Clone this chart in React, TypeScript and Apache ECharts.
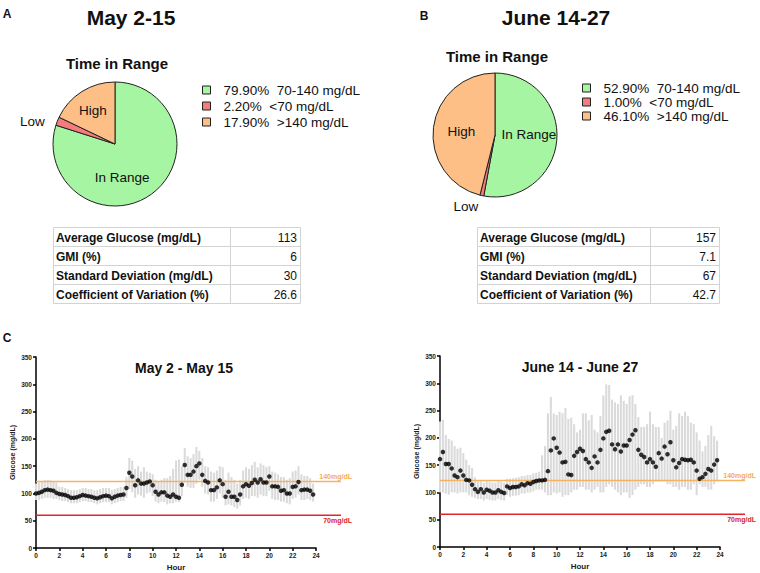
import React, { useEffect, useRef } from "react";
import * as echarts from "echarts";

const FONT = '"Liberation Sans", Arial, Helvetica, sans-serif';

// ---------- Pie data ----------
const pieCategories = ["In Range", "Low", "High"];
const pieRanges = ["70-140 mg/dL", "<70 mg/dL", ">140 mg/dL"];
const pieColors = ["#a6f5a2", "#f47c7c", "#fdbf86"];
const pieValuesA = [79.9, 2.2, 17.9];
const pieValuesB = [52.9, 1.0, 46.1];

// ---------- Summary tables ----------
const statLabels = [
  "Average Glucose (mg/dL)",
  "GMI (%)",
  "Standard Deviation (mg/dL)",
  "Coefficient of Variation (%)",
];
const statValuesA = ["113", "6", "30", "26.6"];
const statValuesB = ["157", "7.1", "67", "42.7"];

// ---------- Daily profile (15-minute samples, 0 h .. 23.75 h) ----------
const SAMPLE_STEP_HOURS = 0.25;

const meanA = [
  100, 101, 103, 106, 107, 106, 105, 101,
  99, 98, 97, 95, 92, 92, 93, 95,
  97, 96, 95, 94, 92, 91, 93, 95,
  96, 95, 91, 94, 96, 97, 98, 110,
  138, 131, 115, 124, 118, 118, 120, 122,
  115, 103, 98, 102, 102, 96, 94, 98,
  94, 92, 116, 152, 134, 134, 140, 150,
  155, 134, 123, 120, 106, 106, 111, 124,
  117, 94, 103, 94, 94, 88, 98, 113,
  117, 114, 119, 125, 120, 126, 120, 120,
  131, 113, 113, 112, 105, 106, 100, 100,
  112, 113, 121, 106, 107, 107, 105, 98,
];
const highA = [
  118, 120, 122, 124, 125, 124, 122, 120,
  112, 112, 110, 108, 106, 106, 106, 108,
  110, 110, 108, 108, 106, 106, 108, 110,
  110, 110, 106, 108, 110, 112, 112, 130,
  165, 160, 145, 150, 140, 148, 140, 138,
  135, 125, 122, 125, 128, 128, 132, 145,
  160, 162, 150, 183, 168, 165, 172, 185,
  178, 165, 150, 148, 140, 138, 142, 150,
  148, 125, 138, 130, 125, 118, 125, 142,
  148, 145, 152, 158, 148, 155, 152, 148,
  150, 140, 138, 135, 130, 130, 125, 128,
  140, 142, 150, 135, 132, 132, 128, 118,
];
const lowA = [
  88, 88, 90, 92, 92, 92, 90, 90,
  88, 86, 86, 84, 82, 82, 82, 84,
  86, 86, 84, 84, 82, 80, 82, 84,
  84, 84, 80, 82, 84, 86, 86, 92,
  108, 102, 92, 98, 96, 92, 100, 102,
  95, 85, 82, 85, 84, 80, 82, 82,
  85, 84, 95, 120, 112, 110, 110, 118,
  125, 112, 100, 98, 85, 85, 90, 100,
  92, 78, 80, 78, 75, 72, 78, 90,
  92, 90, 95, 95, 92, 98, 95, 95,
  105, 90, 88, 88, 85, 85, 82, 80,
  90, 92, 98, 88, 88, 90, 88, 85,
];

const meanB = [
  161, 174, 152, 152, 144, 131, 128, 140,
  131, 123, 122, 114, 106, 101, 106, 100,
  105, 103, 100, 100, 104, 101, 99, 111,
  108, 110, 110, 111, 115, 113, 117, 116,
  119, 121, 122, 122, 123, 139, 177, 199,
  182, 173, 155, 156, 133, 132, 167, 174,
  180, 176, 161, 155, 145, 166, 155, 178,
  199, 211, 213, 188, 179, 188, 175, 186,
  186, 196, 206, 214, 178, 169, 165, 155,
  161, 155, 147, 172, 162, 184, 170, 192,
  159, 146, 154, 161, 160, 159, 160, 155,
  140, 125, 128, 134, 143, 140, 151, 159,
];
const highB = [
  230, 233, 205, 198, 195, 185, 180, 182,
  172, 160, 150, 145, 128, 120, 122, 118,
  122, 120, 118, 118, 122, 120, 118, 125,
  125, 126, 127, 128, 130, 130, 132, 132,
  135, 136, 138, 168, 185, 245, 275, 245,
  242, 248, 245, 255, 235, 237, 225, 210,
  215, 245, 245, 232, 242, 215, 210, 240,
  278, 298, 297, 270, 265, 262, 278, 268,
  262, 276, 278, 262, 238, 220, 220, 225,
  248, 225, 220, 220, 200, 228, 232, 250,
  215, 222, 245, 240, 248, 240, 228, 225,
  210, 195, 175, 185, 205, 222, 203, 195,
];
const lowB = [
  100, 100, 98, 96, 100, 100, 98, 100,
  100, 100, 95, 92, 90, 88, 88, 85,
  88, 86, 85, 85, 88, 86, 85, 95,
  92, 94, 94, 95, 98, 98, 100, 100,
  102, 105, 105, 105, 100, 95, 95, 100,
  98, 100, 92, 95, 95, 100, 105, 105,
  110, 110, 105, 105, 100, 105, 110, 100,
  100, 110, 115, 110, 105, 100, 95, 100,
  100, 90, 95, 105, 110, 115, 115, 110,
  110, 115, 120, 120, 120, 120, 115, 115,
  110, 110, 105, 110, 110, 105, 105, 115,
  95, 115, 110, 110, 105, 105, 115, 120,
];

// reference lines (drawn level, label)
const refLevels = [122, 60];
const refLabels = ["140mg/dL", "70mg/dL"];
const refColors = ["#f5b262", "#e0262a"];
const refLabelColors = ["#f3ad5c", "#d9232a"];

// ---------- layout ----------
const PLOT_W = 280;
const PLOT_H = 191;
const REF_W = 305;
const X_MAX = 24;
const REF_X_MAX = (X_MAX * REF_W) / PLOT_W;

function pieSeries(values: number[], center: number[], labelOffsets: number[][]) {
  return {
    type: "pie",
    center,
    radius: 62,
    startAngle: 90,
    clockwise: true,
    silent: true,
    itemStyle: { borderColor: "#222", borderWidth: 1 },
    labelLine: { show: false },
    data: values.map((v, i) => ({
      name: `${v.toFixed(2)}%  ${pieRanges[i]}`,
      value: v,
      itemStyle: { color: pieColors[i] },
      label: {
        show: true,
        position: "inside",
        formatter: pieCategories[i],
        offset: labelOffsets[i],
        color: "#111",
        fontSize: 13.5,
        fontFamily: FONT,
      },
    })),
  };
}

function legendFor(values: number[], left: number, top: number, rowH: number, gap: number) {
  return {
    orient: "vertical",
    left,
    top,
    padding: 0,
    itemGap: gap,
    itemWidth: 8,
    itemHeight: 8,
    icon: "rect",
    selectedMode: false,
    itemStyle: { borderColor: "#222", borderWidth: 1 },
    textStyle: {
      fontSize: 13.5,
      lineHeight: rowH,
      fontFamily: FONT,
      color: "#111",
      padding: [0, 0, 0, 8],
    },
    data: values.map((v, i) => `${v.toFixed(2)}%  ${pieRanges[i]}`),
  };
}

function tableGraphics(left: number, divider: number, right: number, top: number, values: string[]) {
  const ROW_H = 19;
  const els: any[] = [];
  statLabels.forEach((lab, i) => {
    const y = top + i * ROW_H;
    els.push({
      type: "rect",
      shape: { x: left + 0.5, y: y + 0.5, width: divider - left, height: ROW_H },
      style: { fill: "none", stroke: "#d3d3d3", lineWidth: 1 },
    });
    els.push({
      type: "rect",
      shape: { x: divider + 0.5, y: y + 0.5, width: right - divider, height: ROW_H },
      style: { fill: "none", stroke: "#d3d3d3", lineWidth: 1 },
    });
    els.push({
      type: "text",
      x: left + 3,
      y: y + ROW_H / 2 + 1,
      style: {
        text: lab,
        fontSize: 12,
        fontWeight: "bold",
        fontFamily: FONT,
        fill: "#111",
        align: "left",
        verticalAlign: "middle",
      },
    });
    els.push({
      type: "text",
      x: right - 3,
      y: y + ROW_H / 2 + 1,
      style: {
        text: values[i],
        fontSize: 12,
        fontFamily: FONT,
        fill: "#111",
        align: "right",
        verticalAlign: "middle",
      },
    });
  });
  return els;
}

function textEl(text: string, x: number, y: number, size: number, bold: boolean, align = "center") {
  return {
    type: "text",
    x,
    y,
    style: {
      text,
      fontSize: size,
      fontWeight: bold ? "bold" : "normal",
      fontFamily: FONT,
      fill: "#111",
      align,
      verticalAlign: "middle",
    },
  };
}

function mainAxes(left: number, top: number) {
  const axisCommon = {
    axisLine: { show: true, lineStyle: { color: "#000", width: 1.5 } },
    axisTick: { show: true, length: 3, lineStyle: { color: "#000", width: 1.5 } },
    splitLine: { show: false },
    axisLabel: { fontSize: 6.5, fontWeight: "bold", color: "#222", fontFamily: FONT, margin: 4 },
  };
  return {
    grid: { left, top, width: PLOT_W, height: PLOT_H, containLabel: false },
    x: {
      type: "value",
      min: 0,
      max: X_MAX,
      interval: 2,
      name: "Hour",
      nameLocation: "middle",
      nameGap: 15,
      nameTextStyle: { fontSize: 8, fontWeight: "bold", color: "#222", fontFamily: FONT },
      ...axisCommon,
    },
    y: {
      type: "value",
      min: 0,
      max: 350,
      interval: 50,
      name: "Glucose (mg/dL)",
      nameLocation: "middle",
      nameGap: 20,
      nameTextStyle: { fontSize: 7, fontWeight: "bold", color: "#222", fontFamily: FONT },
      ...axisCommon,
    },
  };
}

function profileSeries(mean: number[], low: number[], high: number[], axisIdx: number, refAxisIdx: number) {
  const hours = mean.map((_, i) => i * SAMPLE_STEP_HOURS);
  const rangeData = hours.map((h, i) => [h, low[i], high[i]]);
  const pointData = hours.map((h, i) => [h, mean[i]]);
  const out: any[] = [
    {
      type: "custom",
      xAxisIndex: axisIdx,
      yAxisIndex: axisIdx,
      silent: true,
      z: 2,
      data: rangeData,
      renderItem: (params: any, api: any) => {
        const x = api.value(0);
        const lo = api.value(1);
        const hi = api.value(2);
        const pTop = api.coord([x, hi]);
        const pBot = api.coord([x, lo]);
        const w = api.size([SAMPLE_STEP_HOURS, 0])[0] * 0.7;
        return {
          type: "rect",
          shape: { x: pTop[0] - w / 2, y: pTop[1], width: w, height: pBot[1] - pTop[1] },
          style: { fill: "#dadada" },
        };
      },
    },
    {
      type: "scatter",
      xAxisIndex: axisIdx,
      yAxisIndex: axisIdx,
      silent: true,
      z: 5,
      symbolSize: 4.5,
      itemStyle: { color: "#000" },
      data: pointData,
    },
  ];
  refLevels.forEach((lvl, k) => {
    out.push({
      type: "line",
      xAxisIndex: refAxisIdx,
      yAxisIndex: refAxisIdx,
      silent: true,
      clip: false,
      z: 3,
      symbol: "circle",
      symbolSize: 0,
      showSymbol: true,
      lineStyle: { color: refColors[k], width: 1.5 },
      itemStyle: { color: refColors[k] },
      data: [
        [0, lvl],
        {
          value: [REF_X_MAX, lvl],
          label: {
            show: true,
            position: k === 0 ? "top" : "bottom",
            align: "right",
            offset: k === 0 ? [11, 4] : [11, -3],
            formatter: refLabels[k],
            color: refLabelColors[k],
            fontSize: 7,
            fontWeight: "bold",
            fontFamily: FONT,
          },
        },
      ],
    });
  });
  return out;
}

export default function App() {
  const ref = useRef<HTMLDivElement>(null);
  useEffect(() => {
    document.body.style.margin = "0";
    const chart = echarts.init(ref.current!, null, { renderer: "svg" });

    const left = mainAxes(36, 357);
    const right = mainAxes(440, 356);
    const hiddenX = { type: "value", min: 0, max: REF_X_MAX, show: false };
    const hiddenY = { type: "value", min: 0, max: 350, show: false };

    const option: any = {
      animation: false,
      backgroundColor: "#fff",
      grid: [
        left.grid,
        { left: 36, top: 357, width: REF_W, height: PLOT_H },
        right.grid,
        { left: 440, top: 356, width: REF_W, height: PLOT_H },
      ],
      xAxis: [
        { ...left.x, gridIndex: 0 },
        { ...hiddenX, gridIndex: 1 },
        { ...right.x, gridIndex: 2 },
        { ...hiddenX, gridIndex: 3 },
      ],
      yAxis: [
        { ...left.y, gridIndex: 0 },
        { ...hiddenY, gridIndex: 1 },
        { ...right.y, gridIndex: 2 },
        { ...hiddenY, gridIndex: 3 },
      ],
      legend: [
        legendFor(pieValuesA, 202, 83, 13.5, 2),
        legendFor(pieValuesB, 582, 81, 12, 0),
      ],
      graphic: [
        textEl("A", 7, 14, 12, true),
        textEl("May 2-15", 131, 17, 21, true),
        textEl("Time in Range", 117, 63, 15, true),
        textEl("B", 424, 16, 12, true),
        textEl("June 14-27", 556, 17, 21, true),
        textEl("Time in Range", 497, 56, 15, true),
        textEl("C", 7, 338, 12, true),
        textEl("May 2 - May 15", 184, 368, 14, true),
        textEl("June 14 - June 27", 580, 367, 14, true),
        ...tableGraphics(53, 230, 300, 227, statValuesA),
        ...tableGraphics(477, 650, 719, 227, statValuesB),
      ],
      series: [
        pieSeries(pieValuesA, [115, 144], [[-13, 6], [-51, -10], [-4, -5]]),
        pieSeries(pieValuesB, [495, 135], [[0, -4], [-22, 38], [0, 1]]),
        ...profileSeries(meanA, lowA, highA, 0, 1),
        ...profileSeries(meanB, lowB, highB, 2, 3),
      ],
    };
    chart.setOption(option);
    return () => chart.dispose();
  }, []);
  return <div ref={ref} style={{ width: 760, height: 573, background: "#fff" }} />;
}
